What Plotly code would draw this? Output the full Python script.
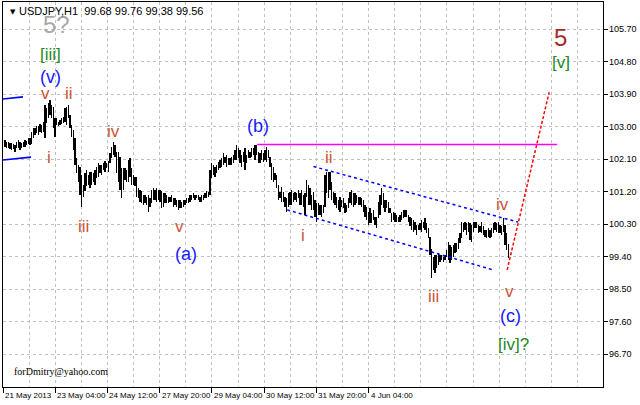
import plotly.graph_objects as go

title_text = "USDJPY,H1  99.68 99.76 99.38 99.56"
email_text = "forDmitry@yahoo.com"

# hourly bars (high / low), five consecutive stretches
highs_a = [102.64,102.59,102.57,102.54,102.54,102.52,102.50,102.57,102.64,102.59,
           102.54,102.59,102.64,102.61,102.68,102.68,102.87,102.96,102.96,103.01,
           103.01,103.07,103.05,103.14,103.61,103.51,103.65,103.74,103.61,103.56,
           103.24,103.24,103.14,103.19,103.24,103.28,103.51,103.56,103.61,103.33,
           103.05,102.91,102.68,102.13,101.94,101.90,101.67,101.39,101.71,101.81,
           101.67,101.76,101.76,101.71,101.81,101.90,101.99,101.94,101.94,101.99,102.04,101.99]
lows_a = [102.45,102.42,102.41,102.39,102.36,102.39,102.31,102.41,102.42,102.36,
          102.41,102.45,102.45,102.50,102.52,102.50,102.52,102.68,102.78,102.82,
          102.78,102.87,102.82,102.87,102.68,103.10,103.24,103.33,103.24,102.96,
          102.73,103.05,103.01,103.05,103.07,103.10,103.14,103.05,103.24,102.96,
          102.73,102.36,101.94,101.71,101.48,101.11,100.79,101.07,101.21,101.35,
          101.39,101.30,101.39,101.48,101.39,101.58,101.62,101.71,101.67,101.81,101.76,101.85]

highs_b = [102.04,102.27,102.45,102.59,102.50,102.31,102.31,102.17,101.85,101.85,
           101.85,101.81,102.08,102.13,101.85,101.67,101.62,101.62,101.30,101.25,
           101.21,101.11,101.11,101.07,101.11,101.02,101.25,101.30,101.25,101.30,
           101.25,101.25,101.21,101.16,101.16,101.11,101.07,101.07,101.11,101.02,
           101.02,100.97,100.97,100.97,100.93,100.97,100.97,101.02,101.02,101.11,
           101.11,101.16,101.11,101.11,101.11,101.07,101.11,101.11,101.16,101.21]
lows_b = [101.76,101.99,102.13,102.22,102.17,101.71,101.48,101.25,101.02,101.25,
          101.53,101.48,101.48,101.62,101.39,101.39,101.35,101.07,101.02,100.93,
          100.88,100.84,100.88,100.84,100.65,100.79,100.88,100.97,100.97,100.93,
          100.97,100.93,100.74,100.79,100.88,100.88,100.88,100.93,100.93,100.79,
          100.84,100.79,100.70,100.74,100.74,100.79,100.84,100.88,100.88,100.93,
          100.97,101.02,100.97,101.02,100.97,100.93,100.93,100.97,101.02,101.02]

highs_c = [101.20,101.80,101.99,101.94,101.90,101.94,102.03,102.08,102.13,102.27,
           102.17,102.22,102.13,102.13,102.17,102.22,102.36,102.50,102.40,102.36,
           102.22,102.31,102.40,102.22,102.36,102.31,102.40,102.40,102.50,102.51,
           102.31,102.27,102.36,102.27,102.36,102.45,102.36,102.17,101.99,101.90,
           101.71,101.67,101.39,101.20,101.34,101.20,101.07,101.02,101.16,101.20,
           101.25,101.16,101.20,101.16,101.25,101.16,101.25,101.11,101.16,101.53]
lows_c = [101.07,101.11,101.57,101.67,101.62,101.71,101.80,101.85,101.90,101.94,
          101.99,101.90,101.94,101.94,101.94,101.99,102.08,102.08,102.13,101.99,
          101.90,102.03,101.80,101.99,102.13,102.13,102.17,102.22,102.08,102.22,
          101.99,101.99,102.08,102.03,102.08,102.03,102.13,101.90,101.53,101.48,
          101.53,101.30,100.97,101.02,100.93,100.93,100.79,100.65,100.79,100.84,
          100.84,100.93,100.97,100.93,101.02,100.84,100.84,100.79,100.56,101.07]

highs_d = [101.39,101.30,101.11,101.20,100.97,100.88,100.88,100.83,100.83,100.83,
           101.67,101.76,101.76,101.76,101.48,101.20,101.16,101.07,100.97,101.07,
           100.97,101.02,100.88,100.83,101.02,101.20,101.25,101.16,101.16,101.11,
           101.07,101.07,101.02,100.97,100.83,100.79,100.65,100.74,100.60,100.70,
           100.51,100.51,100.93,101.11,101.30,101.16,100.97,100.97,100.93,100.74,
           100.60,100.65,100.60,100.56,100.51,100.56,100.65,100.70,100.70,100.70]
lows_d = [100.83,100.83,100.70,100.70,100.51,100.37,100.56,100.56,100.51,100.60,
          100.79,101.16,101.02,101.25,100.97,100.88,100.83,100.74,100.70,100.65,
          100.79,100.74,100.60,100.65,100.74,100.88,100.83,100.79,100.83,100.88,
          100.83,100.83,100.79,100.65,100.51,100.42,100.28,100.33,100.33,100.42,
          100.28,100.19,100.47,100.56,100.83,100.74,100.65,100.74,100.60,100.60,
          100.37,100.42,100.37,100.37,100.37,100.37,100.42,100.47,100.51,100.51]

highs_e = [100.56,100.51,100.47,100.42,100.37,100.28,100.28,100.33,100.42,100.37,
           100.47,100.33,100.19,99.96,99.63,99.40,99.45,99.45,99.50,99.45,
           99.45,99.40,99.45,99.59,99.82,99.73,99.68,99.73,99.77,99.77,
           99.91,100.05,100.37,100.33,100.37,100.33,100.37,100.33,100.28,100.37,
           100.37,100.37,100.28,100.24,100.37,100.24,100.14,100.14,100.19,100.14,
           100.19,100.33,100.37,100.33,100.37,100.28,100.24,100.47,100.28,100.05,99.76]
lows_e = [100.37,100.24,100.14,100.10,100.14,100.00,100.14,100.14,100.10,100.19,
          100.14,100.05,99.91,99.45,98.80,99.04,98.94,99.08,99.17,99.27,
          99.31,99.27,99.31,99.40,99.31,99.22,99.31,99.40,99.50,99.54,
          99.63,99.77,99.91,100.10,100.14,100.00,100.10,99.86,99.82,100.10,
          100.19,100.19,100.05,100.10,100.05,100.00,99.96,99.91,99.96,99.91,
          99.96,100.05,100.14,100.10,100.05,100.05,100.00,100.10,99.73,99.59,99.38]

highs = highs_a + highs_b + highs_c + highs_d + highs_e
lows = lows_a + lows_b + lows_c + lows_d + lows_e

# axis labels
x_tick_labels = ["21 May 2013", "23 May 04:00", "24 May 12:00", "27 May 20:00",
                 "29 May 04:00", "30 May 12:00", "31 May 20:00", "4 Jun 04:00"]
price_ticks = [96.70, 97.60, 98.50, 99.40, 100.30, 101.20, 102.10, 103.00, 103.90, 104.80, 105.70]
x_first_label = -1.2
x_label_step = 31.34
x_range = [-1.2, 358.8]
y_range = [95.795, 106.456]

# drawn lines (bar index, price)
old_top_bars = [-1.2, 10.8];        old_top_prices = [103.77, 103.83]
old_bottom_bars = [-1.2, 15.6];     old_bottom_prices = [102.08, 102.16]
resist_bars = [151.3, 331.3];       resist_prices = [102.51, 102.51]
chan_up_bars = [185.1, 307.9];      chan_up_prices = [101.90, 100.36]
chan_lo_bars = [169.3, 292.7];      chan_lo_prices = [100.70, 99.04]
proj_bars = [301.3, 326.5];         proj_prices = [99.04, 103.96]

# wave labels
minor_texts = ["v", "ii", "i", "iv", "iii", "v", "ii", "i", "iii", "iv", "v"]
minor_bars = [24.0, 38.4, 26.1, 65.1, 46.8, 104.4, 194.4, 178.8, 256.8, 298.2, 302.4]
minor_prices = [103.91, 103.91, 102.16, 102.88, 100.25, 100.23, 102.14, 100.00, 98.31, 100.86, 98.43]

inter_texts = ["(v)", "(a)", "(b)", "(c)"]
inter_bars = [27.0, 108.6, 151.8, 303.0]
inter_prices = [104.38, 99.48, 103.02, 97.76]

bracket_texts = ["[iii]", "[iv]?", "[v]"]
bracket_bars = [27.0, 304.8, 333.6]
bracket_prices = [104.99, 96.96, 104.79]

major_texts = ["5?", "5"]
major_bars = [30.6, 333.0]
major_prices = [105.82, 105.46]

FONT = "Liberation Sans, Arial, sans-serif"

fig = go.Figure()

idx = list(range(len(highs)))
fig.add_trace(go.Bar(x=idx, base=lows, y=[h - l for h, l in zip(highs, lows)],
                     width=0.05, marker=dict(color="black", line=dict(width=0)),
                     hoverinfo="skip"))

def add_line(xs, ys, color, dash=None, width=1.3):
    fig.add_trace(go.Scatter(x=xs, y=ys, mode="lines",
                             line=dict(color=color, width=width, dash=dash),
                             hoverinfo="skip"))

add_line(old_top_bars, old_top_prices, "#0000ff", width=1.6)
add_line(old_bottom_bars, old_bottom_prices, "#0000ff", width=1.6)
add_line(resist_bars, resist_prices, "#ff00ff", width=1.3)
add_line(chan_up_bars, chan_up_prices, "#0000ff", dash="3px,3px", width=1.5)
add_line(chan_lo_bars, chan_lo_prices, "#0000ff", dash="3px,3px", width=1.5)
add_line(proj_bars, proj_prices, "#ff0000", dash="3px,2px", width=1.5)

annotations = []

def add_labels(texts, xs, ys, color, size):
    for t, x, y in zip(texts, xs, ys):
        annotations.append(dict(x=x, y=y, xref="x", yref="y", text=t, showarrow=False,
                                font=dict(family=FONT, size=size, color=color),
                                xanchor="center", yanchor="middle"))

add_labels(minor_texts, minor_bars, minor_prices, "#cc5533", 17)
add_labels(inter_texts, inter_bars, inter_prices, "#1a1aff", 18)
add_labels(bracket_texts, bracket_bars, bracket_prices, "#1f8a1f", 17)
add_labels(major_texts[:1], major_bars[:1], major_prices[:1], "#a8a8a8", 24)
add_labels(major_texts[1:], major_bars[1:], major_prices[1:], "#a52a2a", 24)

# x tick labels, left aligned on their tick like the terminal does
label_pos = [x_first_label + k * x_label_step for k in range(len(x_tick_labels))]
for t, x in zip(x_tick_labels, label_pos):
    annotations.append(dict(x=x, y=0, xref="x", yref="paper", text=t, showarrow=False,
                            xanchor="left", yanchor="top", xshift=0, yshift=-2,
                            font=dict(family=FONT, size=8, color="black")))

# y tick labels placed right of the ticks
for v in price_ticks:
    annotations.append(dict(x=1, y=v, xref="paper", yref="y", text=f"{v:.2f}", showarrow=False,
                            xanchor="left", yanchor="middle", xshift=4,
                            font=dict(family=FONT, size=9, color="black")))

# header
annotations.append(dict(x=0, y=1, xref="paper", yref="paper", text="\u25BC", showarrow=False,
                        xanchor="left", yanchor="top", xshift=5, yshift=-4,
                        font=dict(family="DejaVu Sans", size=7, color="black")))
annotations.append(dict(x=0, y=1, xref="paper", yref="paper", text=title_text, showarrow=False,
                        xanchor="left", yanchor="top", xshift=14, yshift=-1,
                        font=dict(family=FONT, size=11, color="black")))
annotations.append(dict(x=0, y=0, xref="paper", yref="paper", text=email_text, showarrow=False,
                        xanchor="left", yanchor="bottom", xshift=9, yshift=8,
                        font=dict(family="Liberation Serif, Times New Roman, serif", size=10, color="black")))

fig.update_layout(
    width=640, height=405,
    margin=dict(l=3, r=37, t=2, b=18),
    paper_bgcolor="white", plot_bgcolor="white",
    showlegend=False,
    annotations=annotations,
    bargap=0,
)

fig.update_xaxes(
    range=x_range, tickmode="array", tickvals=label_pos, ticktext=[""] * len(label_pos),
    showticklabels=False, ticks="outside", ticklen=5, tickcolor="black", tickwidth=1,
    showgrid=True, gridcolor="#c0c0c0", griddash="3px,3px", gridwidth=1,
    minor=dict(tick0=x_first_label, dtick=x_label_step / 2, showgrid=True,
               gridcolor="#c0c0c0", griddash="3px,3px", gridwidth=1, ticks=""),
    showline=True, linecolor="black", linewidth=1, mirror=True, zeroline=False,
)
fig.update_yaxes(
    range=y_range, side="right", tickmode="array", tickvals=price_ticks,
    showticklabels=False,
    ticks="outside", ticklen=4, tickcolor="black", tickwidth=1,
    showgrid=True, gridcolor="#c0c0c0", griddash="3px,3px", gridwidth=1,
    showline=True, linecolor="black", linewidth=1, mirror=True, zeroline=False,
)

fig.write_html("out.html", config={"displayModeBar": False},
               post_script="document.body.style.margin='0';document.body.style.padding='0';")
